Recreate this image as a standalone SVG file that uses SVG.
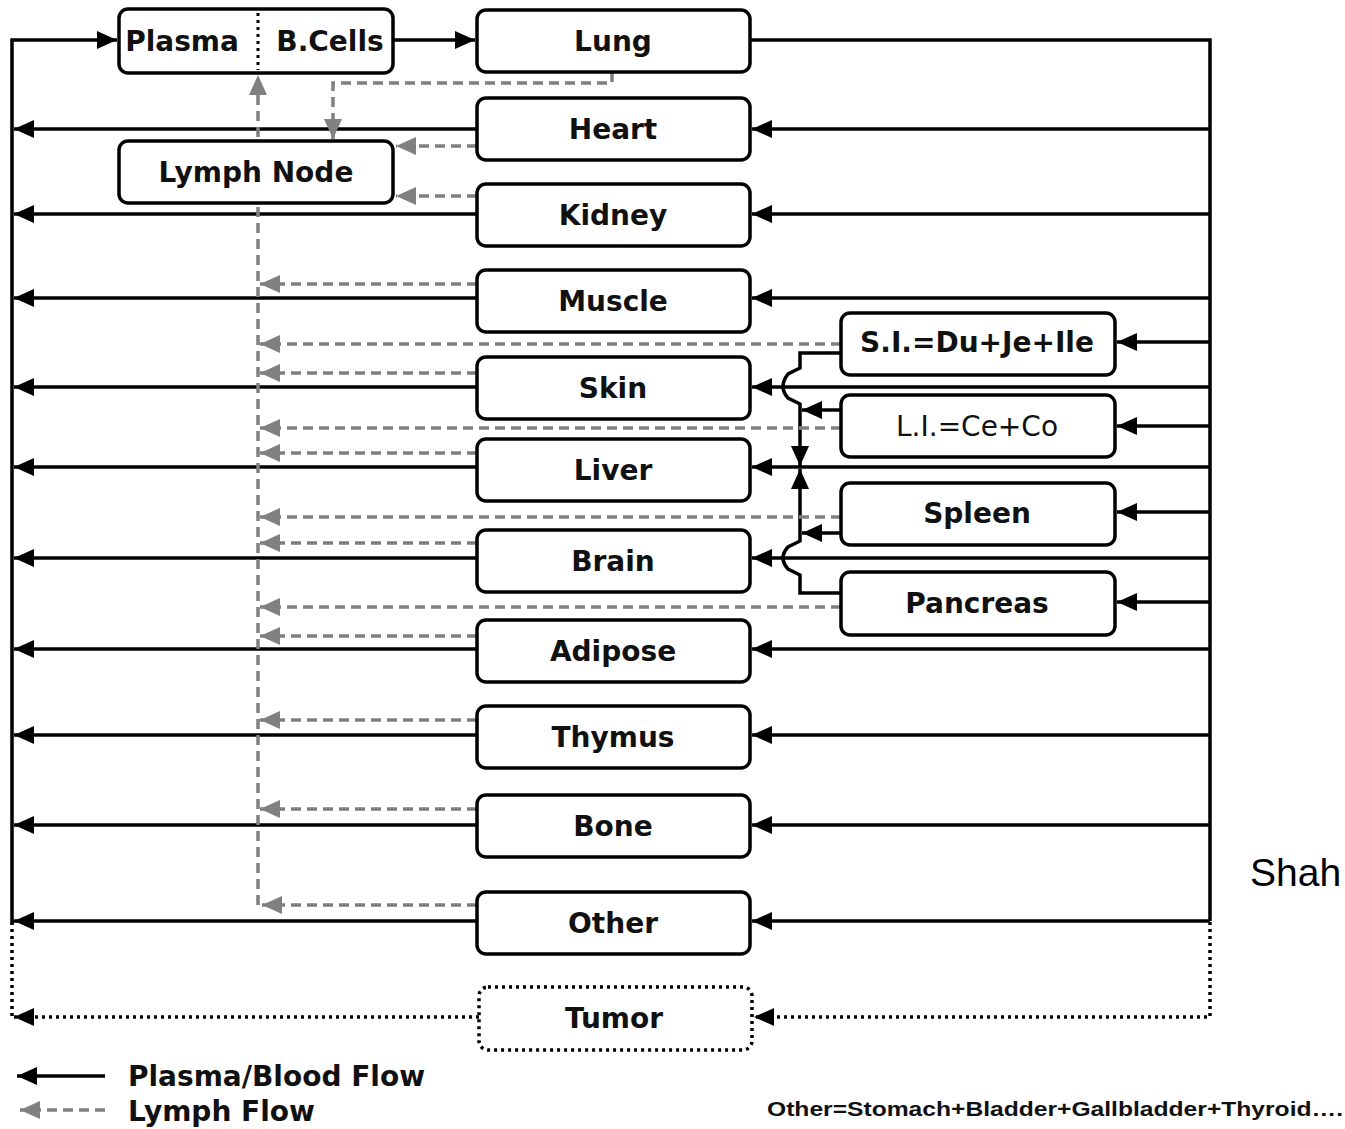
<svg xmlns="http://www.w3.org/2000/svg" width="1345" height="1129" viewBox="0 0 1345 1129">
<defs>
<style>
.box{fill:#fff;stroke:#000;stroke-width:3.5}
.tumor{fill:#fff;stroke:#000;stroke-width:3.5;stroke-dasharray:3 4}
.t{font-family:"DejaVu Sans",sans-serif;font-weight:bold;font-size:28px;text-anchor:middle;fill:#111}
.tn{font-family:"DejaVu Sans",sans-serif;font-size:28px;text-anchor:middle;fill:#111}
.blood{fill:none;stroke:#000;stroke-width:3.5}
.lymph{fill:none;stroke:#808080;stroke-width:3.5;stroke-dasharray:10 6}
.dot{fill:none;stroke:#000;stroke-width:3.5;stroke-dasharray:3 4}
</style>
<marker id="ab" markerUnits="userSpaceOnUse" markerWidth="22" markerHeight="20" refX="20" refY="9" orient="auto"><path d="M0,0 L20,9 L0,18 z" fill="#000"/></marker>
<marker id="ag" markerUnits="userSpaceOnUse" markerWidth="22" markerHeight="20" refX="20" refY="9" orient="auto"><path d="M0,0 L20,9 L0,18 z" fill="#808080"/></marker>
</defs>
<rect width="1345" height="1129" fill="#fff"/>

<g id="connectors">
<path class="blood" d="M14,922 L12,922 L12,40 L117,40" marker-end="url(#ab)"/>
<path class="blood" d="M393,40 L475,40" marker-end="url(#ab)"/>
<path class="blood" d="M750,40 L1210,40 L1210,921"/>
<path class="blood" d="M477,129 L14,129" marker-end="url(#ab)"/>
<path class="blood" d="M477,214 L14,214" marker-end="url(#ab)"/>
<path class="blood" d="M477,298 L14,298" marker-end="url(#ab)"/>
<path class="blood" d="M477,387 L14,387" marker-end="url(#ab)"/>
<path class="blood" d="M477,467 L14,467" marker-end="url(#ab)"/>
<path class="blood" d="M477,558 L14,558" marker-end="url(#ab)"/>
<path class="blood" d="M477,649 L14,649" marker-end="url(#ab)"/>
<path class="blood" d="M477,735 L14,735" marker-end="url(#ab)"/>
<path class="blood" d="M477,825 L14,825" marker-end="url(#ab)"/>
<path class="blood" d="M477,921 L14,921" marker-end="url(#ab)"/>
<path class="blood" d="M1210,129 L752,129" marker-end="url(#ab)"/>
<path class="blood" d="M1210,214 L752,214" marker-end="url(#ab)"/>
<path class="blood" d="M1210,298 L752,298" marker-end="url(#ab)"/>
<path class="blood" d="M1210,387 L752,387" marker-end="url(#ab)"/>
<path class="blood" d="M1210,467 L752,467" marker-end="url(#ab)"/>
<path class="blood" d="M1210,558 L752,558" marker-end="url(#ab)"/>
<path class="blood" d="M1210,649 L752,649" marker-end="url(#ab)"/>
<path class="blood" d="M1210,735 L752,735" marker-end="url(#ab)"/>
<path class="blood" d="M1210,825 L752,825" marker-end="url(#ab)"/>
<path class="blood" d="M1210,921 L752,921" marker-end="url(#ab)"/>
<path class="blood" d="M1210,342 L1117,342" marker-end="url(#ab)"/>
<path class="blood" d="M1210,426 L1117,426" marker-end="url(#ab)"/>
<path class="blood" d="M1210,512 L1117,512" marker-end="url(#ab)"/>
<path class="blood" d="M1210,602 L1117,602" marker-end="url(#ab)"/>
<path class="blood" d="M841,353 L800,353 L800,368 L788,374 Q778,387 788,398 L800,404 L800,466" marker-end="url(#ab)"/>
<path class="blood" d="M841,410 L802,410" marker-end="url(#ab)"/>
<path class="blood" d="M841,593 L800,593 L800,575 L788,569 Q778,558 788,547 L800,541 L800,469" marker-end="url(#ab)"/>
<path class="blood" d="M841,533 L802,533" marker-end="url(#ab)"/>
<path class="dot" d="M1210,922 L1210,1017 L754,1017" marker-end="url(#ab)"/>
<path class="dot" d="M479,1017 L14,1017" marker-end="url(#ab)"/>
<path class="dot" d="M12,922 L12,1017"/>
<path class="lymph" d="M612,72 L612,83 L333,83 L333,139" marker-end="url(#ag)"/>
<path class="lymph" d="M258,905 L258,75" marker-end="url(#ag)"/>
<path class="lymph" d="M477,146 L396,146" marker-end="url(#ag)"/>
<path class="lymph" d="M477,196 L396,196" marker-end="url(#ag)"/>
<path class="lymph" d="M477,284 L260,284" marker-end="url(#ag)"/>
<path class="lymph" d="M841,344 L260,344" marker-end="url(#ag)"/>
<path class="lymph" d="M477,373 L260,373" marker-end="url(#ag)"/>
<path class="lymph" d="M841,428 L260,428" marker-end="url(#ag)"/>
<path class="lymph" d="M477,453 L260,453" marker-end="url(#ag)"/>
<path class="lymph" d="M841,517 L260,517" marker-end="url(#ag)"/>
<path class="lymph" d="M477,543 L260,543" marker-end="url(#ag)"/>
<path class="lymph" d="M841,607 L260,607" marker-end="url(#ag)"/>
<path class="lymph" d="M477,636 L260,636" marker-end="url(#ag)"/>
<path class="lymph" d="M477,720 L260,720" marker-end="url(#ag)"/>
<path class="lymph" d="M477,809 L260,809" marker-end="url(#ag)"/>
<path class="lymph" d="M477,905 L262,905" marker-end="url(#ag)"/>
</g>

<g id="plasma"><rect class="box" x="119" y="9" width="274" height="64" rx="9"/>
<line x1="258" y1="13" x2="258" y2="70" stroke="#000" stroke-width="3" stroke-dasharray="3 4"/>
<text class="t" x="182" y="51">Plasma</text><text class="t" x="330" y="51">B.Cells</text></g>
<g id="lymphnode"><rect class="box" x="119" y="141" width="274" height="62" rx="9"/><text class="t" x="256" y="182">Lymph Node</text></g>
<g id="lung"><rect class="box" x="477" y="10" width="273" height="62" rx="9"/><text class="t" x="613" y="51">Lung</text></g>
<g id="heart"><rect class="box" x="477" y="98" width="273" height="62" rx="9"/><text class="t" x="613" y="139">Heart</text></g>
<g id="kidney"><rect class="box" x="477" y="184" width="273" height="62" rx="9"/><text class="t" x="613" y="225">Kidney</text></g>
<g id="muscle"><rect class="box" x="477" y="270" width="273" height="62" rx="9"/><text class="t" x="613" y="311">Muscle</text></g>
<g id="skin"><rect class="box" x="477" y="357" width="273" height="62" rx="9"/><text class="t" x="613" y="398">Skin</text></g>
<g id="liver"><rect class="box" x="477" y="439" width="273" height="62" rx="9"/><text class="t" x="613" y="480">Liver</text></g>
<g id="brain"><rect class="box" x="477" y="530" width="273" height="62" rx="9"/><text class="t" x="613" y="571">Brain</text></g>
<g id="adipose"><rect class="box" x="477" y="620" width="273" height="62" rx="9"/><text class="t" x="613" y="661">Adipose</text></g>
<g id="thymus"><rect class="box" x="477" y="706" width="273" height="62" rx="9"/><text class="t" x="613" y="747">Thymus</text></g>
<g id="bone"><rect class="box" x="477" y="795" width="273" height="62" rx="9"/><text class="t" x="613" y="836">Bone</text></g>
<g id="other"><rect class="box" x="477" y="892" width="273" height="62" rx="9"/><text class="t" x="613" y="933">Other</text></g>
<g id="tumor"><rect class="tumor" x="479" y="987" width="273" height="63" rx="9"/><text class="t" x="614" y="1028">Tumor</text></g>
<g id="si"><rect class="box" x="841" y="313" width="274" height="62" rx="9"/><text class="t" x="977" y="352">S.I.=Du+Je+Ile</text></g>
<g id="li"><rect class="box" x="841" y="395" width="274" height="62" rx="9"/><text class="tn" x="977" y="436">L.I.=Ce+Co</text></g>
<g id="spleen"><rect class="box" x="841" y="483" width="274" height="62" rx="9"/><text class="t" x="977" y="523">Spleen</text></g>
<g id="pancreas"><rect class="box" x="841" y="572" width="274" height="63" rx="9"/><text class="t" x="977" y="613">Pancreas</text></g>

<g id="legend">
<path class="blood" d="M105,1076 L17,1076" marker-end="url(#ab)"/>
<path class="lymph" d="M105,1110 L20,1110" marker-end="url(#ag)"/>
<text class="t" x="128" y="1086" style="text-anchor:start">Plasma/Blood Flow</text>
<text class="t" x="128" y="1121" style="text-anchor:start">Lymph Flow</text>
</g>
<text x="767" y="1116" font-family="Liberation Sans, sans-serif" font-weight="bold" font-size="21" textLength="576" lengthAdjust="spacingAndGlyphs" fill="#111">Other=Stomach+Bladder+Gallbladder+Thyroid….</text>
<text x="1250" y="886" font-family="Liberation Sans, sans-serif" font-size="39" fill="#000">Shah</text>
</svg>
